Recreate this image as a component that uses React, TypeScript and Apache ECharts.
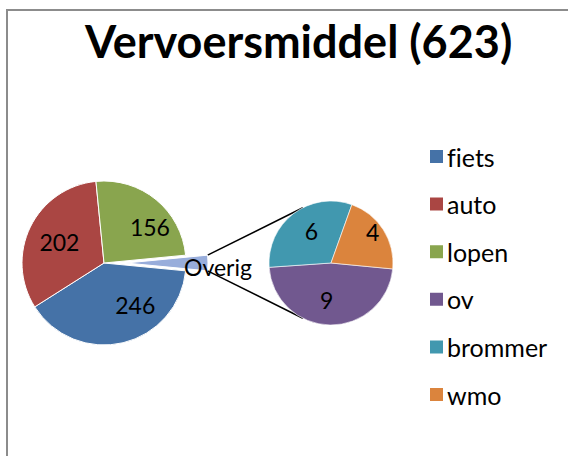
import React, { useEffect, useRef } from "react";
import * as echarts from "echarts";

const titleText = "Vervoersmiddel (623)";
const mainNames = ["fiets", "auto", "lopen"];
const mainValues = [246, 202, 156];
const otherName = "Overig";
const subNames = ["ov", "brommer", "wmo"];
const subValues = [9, 6, 4];
const legendNames = ["fiets", "auto", "lopen", "ov", "brommer", "wmo"];

const colors: Record<string, string> = {
  fiets: "#4572A7",
  auto: "#AA4643",
  lopen: "#89A54E",
  ov: "#71588F",
  brommer: "#4198AF",
  wmo: "#DB843D",
  Overig: "#98ADDB",
};

const labelOffsets: Record<string, number[]> = {
  fiets: [21, -1],
  auto: [-5, -2],
  lopen: [18, -2],
  Overig: [48, 4],
  ov: [-4, 3],
  brommer: [1, -5],
  wmo: [13, -13],
};

const FONT = "Lato";

export default function App() {
  const ref = useRef<HTMLDivElement>(null);
  useEffect(() => {
    if (!ref.current) return;
    const chart = echarts.init(ref.current, undefined, { renderer: "svg" });
    const otherValue = subValues.reduce((a, b) => a + b, 0);
    const total = mainValues.reduce((a, b) => a + b, 0) + otherValue;
    const halfAngle = (otherValue / total) * 180;

    const mainC = [104, 263];
    const mainR = 82;
    const explode = 22;
    const subC = [331, 263];
    const subR = 62;
    const connAngle = 117;

    const rad = (d: number) => (d * Math.PI) / 180;
    const apex = [mainC[0] + explode, mainC[1]];
    const p1 = [apex[0] + mainR * Math.cos(rad(halfAngle)), apex[1] - mainR * Math.sin(rad(halfAngle))];
    const p2 = [apex[0] + mainR * Math.cos(rad(halfAngle)), apex[1] + mainR * Math.sin(rad(halfAngle))];
    const q1 = [subC[0] + subR * Math.cos(rad(connAngle)), subC[1] - subR * Math.sin(rad(connAngle))];
    const q2 = [subC[0] + subR * Math.cos(rad(connAngle)), subC[1] + subR * Math.sin(rad(connAngle))];

    const mkItem = (name: string, value: number) => ({
      name,
      value,
      itemStyle: { color: colors[name] },
      label: { offset: labelOffsets[name] },
    });

    const otherLabel = { offset: labelOffsets[otherName], formatter: "{b}" };
    const mainData = [
      {
        ...mkItem(otherName, otherValue),
        selected: true,
        label: otherLabel,
        select: { label: otherLabel, itemStyle: { color: colors[otherName], borderColor: "#fff", borderWidth: 1 } },
      },
      ...mainNames.map((n, i) => mkItem(n, mainValues[i])),
    ];
    const subData = subNames.map((n, i) => mkItem(n, subValues[i]));

    const labelStyle = {
      show: true,
      position: "inside",
      formatter: "{c}",
      color: "#000",
      fontFamily: FONT,
      fontSize: 23,
    };

    chart.setOption({
      animation: false,
      title: {
        text: titleText,
        left: 80,
        top: 13,
        textStyle: { fontFamily: FONT, fontWeight: "bold", fontSize: 45, color: "#000" },
      },
      legend: {
        orient: "vertical",
        left: 423,
        top: 139,
        data: legendNames,
        icon: "rect",
        itemWidth: 15,
        itemHeight: 15,
        itemGap: 22.6,
        selectedMode: false,
        textStyle: { fontFamily: FONT, fontSize: 25, color: "#000", lineHeight: 25, padding: [0, 0, 0, -2] },
      },
      graphic: [
        {
          type: "rect",
          shape: { x: 7, y: 10, width: 700, height: 600 },
          style: { fill: "none", stroke: "#8c8c8c", lineWidth: 2 },
          silent: true,
          z: -1,
        },
        {
          type: "line",
          shape: { x1: p1[0], y1: p1[1], x2: q1[0], y2: q1[1] },
          style: { stroke: "#000", lineWidth: 1.5 },
          z: 0,
        },
        {
          type: "line",
          shape: { x1: p2[0], y1: p2[1], x2: q2[0], y2: q2[1] },
          style: { stroke: "#000", lineWidth: 1.5 },
          z: 0,
        },
      ],
      series: [
        {
          type: "pie",
          center: mainC,
          radius: mainR,
          startAngle: halfAngle,
          clockwise: true,
          selectedMode: "single",
          selectedOffset: explode,
          label: labelStyle,
          labelLine: { show: false },
          itemStyle: { borderColor: "#fff", borderWidth: 1 },
          emphasis: { disabled: true },
          data: mainData,
          z: 2,
        },
        {
          type: "pie",
          center: subC,
          radius: subR,
          startAngle: -halfAngle,
          clockwise: true,
          label: labelStyle,
          labelLine: { show: false },
          itemStyle: { borderColor: "#fff", borderWidth: 0.6 },
          emphasis: { disabled: true },
          data: subData,
          z: 2,
        },
      ],
    });
    return () => chart.dispose();
  }, []);
  return (
    <div
      ref={ref}
      style={{
        position: "fixed",
        left: 0,
        top: 0,
        width: 568,
        height: 456,
        background: "#fff",
        fontVariantLigatures: "none",
      }}
    />
  );
}
